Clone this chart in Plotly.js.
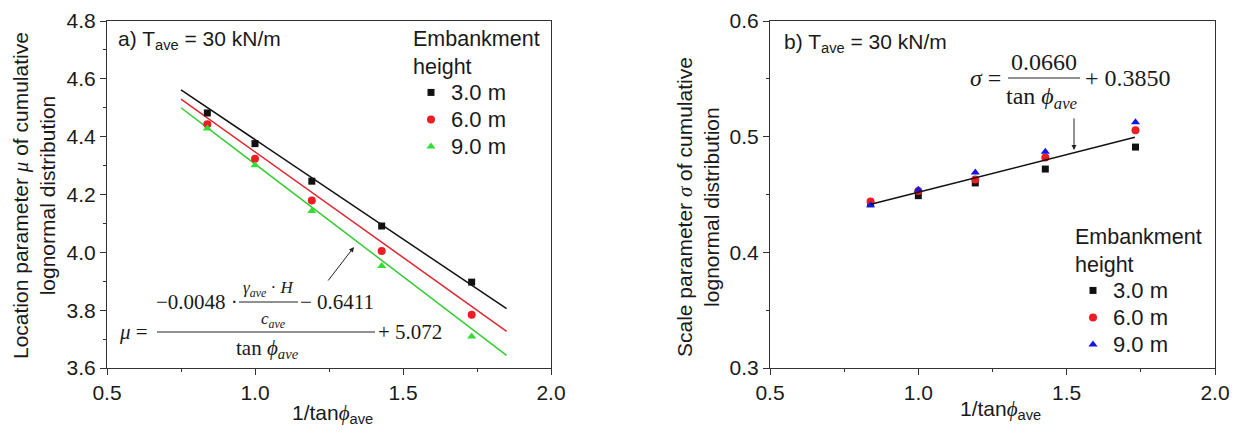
<!DOCTYPE html>
<html>
<head>
<meta charset="utf-8">
<script src="https://cdn.plot.ly/plotly-3.0.1.min.js"></script>
<style>html,body{margin:0;padding:0;background:#fff;}#chart{width:1239px;height:434px;}</style>
</head>
<body>
<div id="chart"></div>
<script>
// ---------- data ----------
const invTanPhi = [0.839, 1.0, 1.192, 1.428, 1.732];
const seriesNames = ['3.0 m', '6.0 m', '9.0 m'];

// (a) location parameter mu
const muH3 = [4.482, 4.376, 4.246, 4.091, 3.897];
const muH6 = [4.443, 4.324, 4.179, 4.005, 3.784];
const muH9 = [4.428, 4.301, 4.143, 3.953, 3.709];
// fitted lines (a)
const fitAX = [0.75, 1.85];
const fitA3 = [4.562, 3.805];
const fitA6 = [4.530, 3.727];
const fitA9 = [4.500, 3.644];

// (b) scale parameter sigma
const sigH3 = [0.442, 0.449, 0.460, 0.472, 0.491];
const sigH6 = [0.444, 0.453, 0.463, 0.482, 0.5055];
const sigH9 = [0.4406, 0.454, 0.469, 0.487, 0.5124];
// fitted line (b)
const fitBX = [0.84, 1.73];
const fitB = [0.4415, 0.4995];

// ---------- helpers ----------
const W = 1239, H = 434;
const px = x => x / W;
const py = y => 1 - y / H;
const SANS = 'Arial, "Liberation Sans", sans-serif';
const SERIF = '"Times New Roman", "Liberation Serif", "DejaVu Serif", serif';
const FG = '#1a1a1a';
const FS = 21;

const cBlack = '#111111', cRed = '#ee1c24', cGreen = '#33dd33', cBlue = '#1515e8';

function pts(x, y, name, color, symbol, xa, ya, leg) {
  return {x: x, y: y, name: '<span style="font-size:22px">' + name + '</span>', type: 'scatter', mode: 'markers',
    marker: {color: color, symbol: symbol, size: symbol === 'square' ? 7 : 8, line: {width: 0}},
    xaxis: xa, yaxis: ya, legend: leg, showlegend: true};
}
function fit(x, y, color, xa, ya) {
  return {x: x, y: y, type: 'scatter', mode: 'lines', line: {color: color, width: 1.5},
    xaxis: xa, yaxis: ya, showlegend: false, hoverinfo: 'skip'};
}

const traces = [
  fit(fitAX, fitA3, '#111111', 'x', 'y'),
  fit(fitAX, fitA6, '#e0262e', 'x', 'y'),
  fit(fitAX, fitA9, '#33cc33', 'x', 'y'),
  pts(invTanPhi, muH3, seriesNames[0], cBlack, 'square', 'x', 'y', 'legend'),
  pts(invTanPhi, muH6, seriesNames[1], cRed, 'circle', 'x', 'y', 'legend'),
  pts(invTanPhi, muH9, seriesNames[2], cGreen, 'triangle-up', 'x', 'y', 'legend'),
  pts(invTanPhi, sigH3, seriesNames[0], cBlack, 'square', 'x2', 'y2', 'legend2'),
  pts(invTanPhi, sigH6, seriesNames[1], cRed, 'circle', 'x2', 'y2', 'legend2'),
  pts(invTanPhi, sigH9, seriesNames[2], cBlue, 'triangle-up', 'x2', 'y2', 'legend2'),
  fit(fitBX, fitB, '#111111', 'x2', 'y2')
];

function xax(domain, anchor) {
  return {domain: domain, anchor: anchor, range: [0.5, 2.0], tick0: 0.5, dtick: 0.5, tickformat: '.1f',
    ticks: 'outside', ticklen: 6, tickwidth: 1, tickcolor: '#333',
    minor: {dtick: 0.25, ticks: 'outside', ticklen: 3, tickcolor: '#333', showgrid: false},
    showline: true, linecolor: '#333', linewidth: 1, mirror: true,
    showgrid: false, zeroline: false, tickfont: {family: SANS, size: FS, color: FG}};
}
function yax(domain, anchor, range, dtick) {
  return {domain: domain, anchor: anchor, range: range, tick0: range[0], dtick: dtick, tickformat: '.1f',
    ticks: 'outside', ticklen: 6, tickwidth: 1, tickcolor: '#333',
    minor: {dtick: dtick / 2, ticks: 'outside', ticklen: 3, tickcolor: '#333', showgrid: false},
    showline: true, linecolor: '#333', linewidth: 1, mirror: true,
    showgrid: false, zeroline: false, tickfont: {family: SANS, size: FS, color: FG}};
}

function txt(x, y, text, opt) {
  return Object.assign({xref: 'paper', yref: 'paper', x: px(x), y: py(y), text: text, showarrow: false,
    xanchor: 'center', yanchor: 'middle', font: {family: SANS, size: FS, color: FG}}, opt || {});
}
const serif = (s) => ({font: {family: SERIF, size: s, color: FG}});
const phiSpan = '<span style="font-family:\'Liberation Serif\',\'DejaVu Serif\',serif"><i>ϕ</i></span>';

const annotations = [
  // axis titles
  txt(332, 414, '1/tan' + phiSpan + '<sub>ave</sub>'),
  txt(1000, 410, '1/tan' + phiSpan + '<sub>ave</sub>'),
  txt(34, 196, 'Location parameter <span style="font-family:\'Liberation Serif\',serif"><i>μ</i></span> of cumulative<br>lognormal distribution', {textangle: -90}),
  txt(698, 207, 'Scale parameter <span style="font-family:\'Liberation Serif\',serif"><i>σ</i></span> of cumulative<br>lognormal distribution', {textangle: -90}),
  // panel labels
  txt(116, 40, 'a) T<sub>ave</sub> = 30 kN/m', {xanchor: 'left'}),
  txt(782, 43, 'b) T<sub>ave</sub> = 30 kN/m', {xanchor: 'left'}),
  // formula (a)
  txt(133, 332, '<i>μ</i> =', serif(21)),
  txt(197, 302, '−0.0048 ·', serif(21)),
  txt(268, 289, '<i>γ</i><sub><i>ave</i></sub> · <i>H</i>', serif(17)),
  txt(273, 320, '<i>c</i><sub><i>ave</i></sub>', serif(17)),
  txt(337, 302, '− 0.6411', serif(21)),
  txt(410, 332, '+ 5.072', serif(21)),
  txt(267, 349, 'tan <i>ϕ</i><sub><i>ave</i></sub>', serif(21)),
  {xref: 'paper', yref: 'paper', x: px(354), y: py(247), text: '', showarrow: true,
    ax: -27, ay: 35, arrowhead: 2, arrowsize: 1, arrowwidth: 1, arrowcolor: '#222'},
  // formula (b)
  txt(985, 78, '<i>σ</i> =', serif(24)),
  txt(1044, 62, '0.0660', serif(24)),
  txt(1042, 98, 'tan <i>ϕ</i><sub><i>ave</i></sub>', serif(24)),
  txt(1128, 78, '+ 0.3850', serif(24)),
  {xref: 'paper', yref: 'paper', x: px(1074), y: py(150), text: '', showarrow: true,
    ax: 0, ay: -33, arrowhead: 2, arrowsize: 1, arrowwidth: 1, arrowcolor: '#222'}
];

const shapes = [
  {type: 'line', xref: 'paper', yref: 'paper', x0: px(239), x1: px(298), y0: py(302), y1: py(302), line: {color: '#222', width: 1}},
  {type: 'line', xref: 'paper', yref: 'paper', x0: px(157), x1: px(375), y0: py(332), y1: py(332), line: {color: '#222', width: 1}},
  {type: 'line', xref: 'paper', yref: 'paper', x0: px(1008), x1: px(1080), y0: py(78), y1: py(78), line: {color: '#222', width: 1}}
];

function leg(x, y) {
  return {x: px(x), y: py(y), xanchor: 'left', yanchor: 'top', bgcolor: 'rgba(0,0,0,0)',
    borderwidth: 0, font: {family: SANS, size: 18.5, color: FG}, itemwidth: 30,
    title: {text: 'Embankment<br>height', font: {family: SANS, size: 21.5, color: FG}, side: 'top'}};
}

const layout = {
  width: W, height: H, margin: {l: 0, r: 0, t: 0, b: 0},
  paper_bgcolor: '#fff', plot_bgcolor: '#fff',
  xaxis: xax([px(107), px(551)], 'y'),
  yaxis: yax([py(368), py(21)], 'x', [3.6, 4.8], 0.2),
  xaxis2: xax([px(770), px(1215)], 'y2'),
  yaxis2: yax([py(368), py(21)], 'x2', [0.3, 0.6], 0.1),
  legend: leg(411, 18),
  legend2: leg(1073, 216),
  annotations: annotations,
  shapes: shapes
};

Plotly.newPlot('chart', traces, layout, {displayModeBar: false, staticPlot: true});
</script>
</body>
</html>
